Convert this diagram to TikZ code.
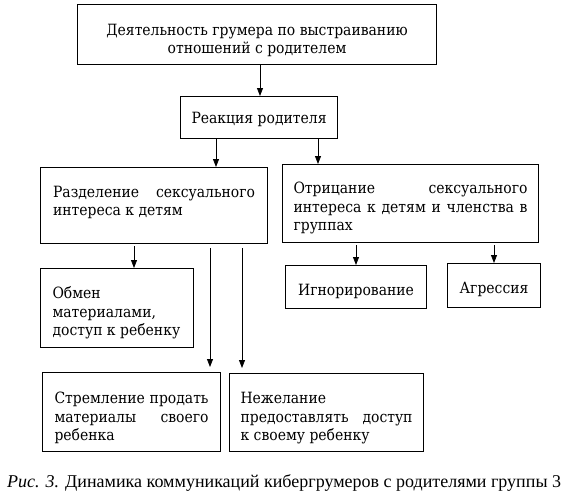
\documentclass[tikz,border=0pt]{standalone}
\usepackage{fontspec}
\setmainfont{DejaVu Serif}[FakeStretch=0.9]
\newfontfamily\capfont{Liberation Serif}
\usetikzlibrary{arrows.meta}
\tikzset{
  box/.style={draw=black, line width=1.1pt, inner sep=0pt, anchor=north west, rectangle},
  arr/.style={line width=0.8pt, -{Triangle[length=8pt,width=6pt]}},
}
% width, height, first-baseline offset, text
\newcommand{\bxt}[4]{\parbox[c][#2][t]{#1}{\fontsize{15.5}{18.5}\selectfont\rule{0pt}{#3}#4}}
\begin{document}
\begin{tikzpicture}[x=1pt,y=-1pt]
\useasboundingbox (0,0) rectangle (573,493);

\node[box, minimum width=359pt, minimum height=60pt] (b1) at (77,4)
  {\bxt{335pt}{60pt}{30.5pt}{\centering Деятельность грумера по выстраиванию\\ отношений с родителем}};
\node[box, minimum width=157pt, minimum height=42pt] (b2) at (180,96)
  {\bxt{150pt}{42pt}{27pt}{\centering Реакция родителя}};
\node[box, minimum width=227pt, minimum height=76pt] (b3) at (40,167)
  {\bxt{202pt}{76pt}{29.5pt}{Разделение\hfill сексуального\\ интереса к детям}};
\node[box, minimum width=256pt, minimum height=78pt] (b4) at (282,164)
  {\bxt{234pt}{78pt}{29pt}{Отрицание\hfill сексуального\\ интереса\hfill к\hfill детям\hfill и\hfill членства\hfill в\\ группах}};
\node[box, minimum width=153pt, minimum height=79pt] (b5) at (40,268)
  {\bxt{129pt}{79pt}{30pt}{Обмен\\ материалами,\\ доступ к ребенку}};
\node[box, minimum width=178pt, minimum height=79pt] (b6) at (42,372)
  {\bxt{154pt}{79pt}{31pt}{Стремление\hfill продать\\ материалы\hfill своего\\ ребенка}};
\node[box, minimum width=194pt, minimum height=78pt] (b7) at (229,373)
  {\bxt{172pt}{78pt}{30pt}{Нежелание\\ предоставлять\hfill доступ\\ к своему ребенку}};
\node[box, minimum width=141pt, minimum height=43pt] (b8) at (285,265)
  {\bxt{141pt}{43pt}{30pt}{\centering Игнорирование}};
\node[box, minimum width=93pt, minimum height=44pt] (b9) at (447,263)
  {\bxt{93pt}{44pt}{30pt}{\centering Агрессия}};

\node[anchor=base west, inner sep=0pt] (cap) at (7,487)
  {\capfont\fontsize{18}{20}\selectfont\textit{Рис. 3.} Динамика коммуникаций кибергрумеров с родителями группы 3};

\draw[arr] (b1.south -| 260,0) -- (b2.north -| 260,0);
\draw[arr] (b2.south -| 216,0) -- (b3.north -| 216,0);
\draw[arr] (b2.south -| 318,0) -- (b4.north -| 318,0);
\draw[arr, shorten <=2pt] (b3.south -| 134,0) -- (b5.north -| 134,0);
\draw[arr, shorten <=4pt, shorten >=5pt] (b3.south -| 210,0) -- (b6.north -| 210,0);
\draw[arr, shorten <=4pt, shorten >=5pt] (b3.south -| 242,0) -- (b7.north -| 242,0);
\draw[arr, shorten <=2pt] (b4.south -| 356,0) -- (b8.north -| 356,0);
\draw[arr, shorten <=2pt] (b4.south -| 494,0) -- (b9.north -| 494,0);
\end{tikzpicture}
\end{document}
